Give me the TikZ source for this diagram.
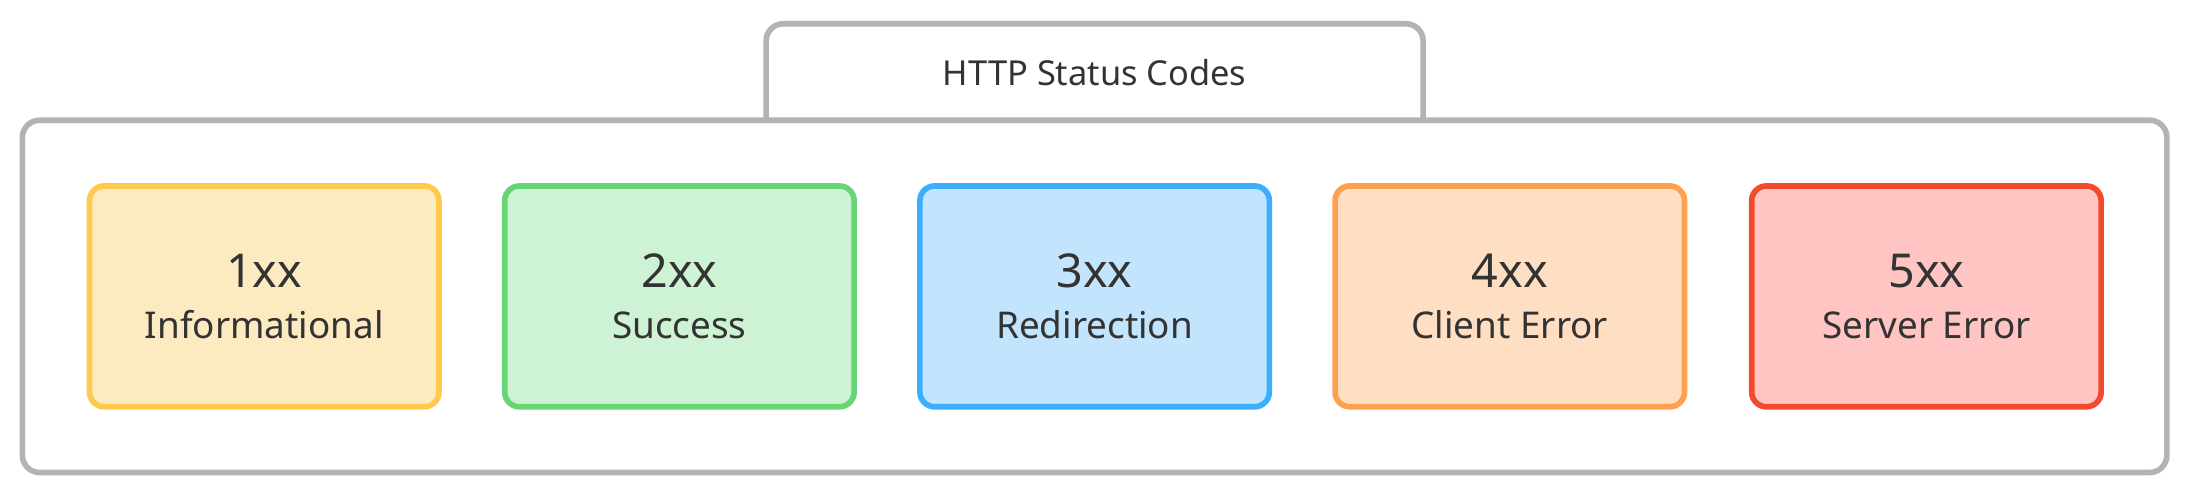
\documentclass[tikz,border=0pt]{standalone}
\usepackage{fontspec}
\setmainfont{Noto Sans}
\usetikzlibrary{positioning}
\definecolor{frame}{HTML}{B3B3B3}
\definecolor{infoD}{HTML}{FFC94D}\definecolor{infoL}{HTML}{FCEBC0}
\definecolor{succD}{HTML}{66D575}\definecolor{succL}{HTML}{CDF3D4}
\definecolor{redirD}{HTML}{3DAEFF}\definecolor{redirL}{HTML}{C2E4FD}
\definecolor{clientD}{HTML}{FFA04D}\definecolor{clientL}{HTML}{FFDFC3}
\definecolor{serverD}{HTML}{F24A2C}\definecolor{serverL}{HTML}{FEC5C2}
\definecolor{ink}{HTML}{333333}
\begin{document}
\begin{tikzpicture}[x=0.02cm,y=-0.02cm]
% box styles
\tikzstyle{group}=[draw=frame,line width=2.3pt,rounded corners=7pt,fill=white]
\tikzstyle{code}=[rounded corners=6pt,line width=2.3pt,minimum width=254*0.02cm-2.3pt,
  minimum height=162*0.02cm-2.3pt,align=center,text=ink,inner sep=0pt]

\useasboundingbox (0,0) rectangle (1568,355);

% frame and title
\draw[group] (548,86) -- (548,17) -- (1018,17) -- (1018,86);
\draw[group] (16,86) rectangle (1550,338);
\node[text=ink,font=\fontsize{14}{16}\selectfont] (title) at (783,52) {HTTP Status Codes};

% status classes
\foreach \name/\x/\num/\txt in {info/189/1xx/Informational,succ/486/2xx/Success,
  redir/783/3xx/Redirection,client/1080/4xx/Client Error,server/1378/5xx/Server Error}
\node[code,draw=\name D,fill=\name L] (C-\name) at (\x,212)
  {{\fontsize{19}{26}\selectfont\num}\\[9pt]{\fontsize{15}{18}\selectfont\txt}};
\end{tikzpicture}
\end{document}
